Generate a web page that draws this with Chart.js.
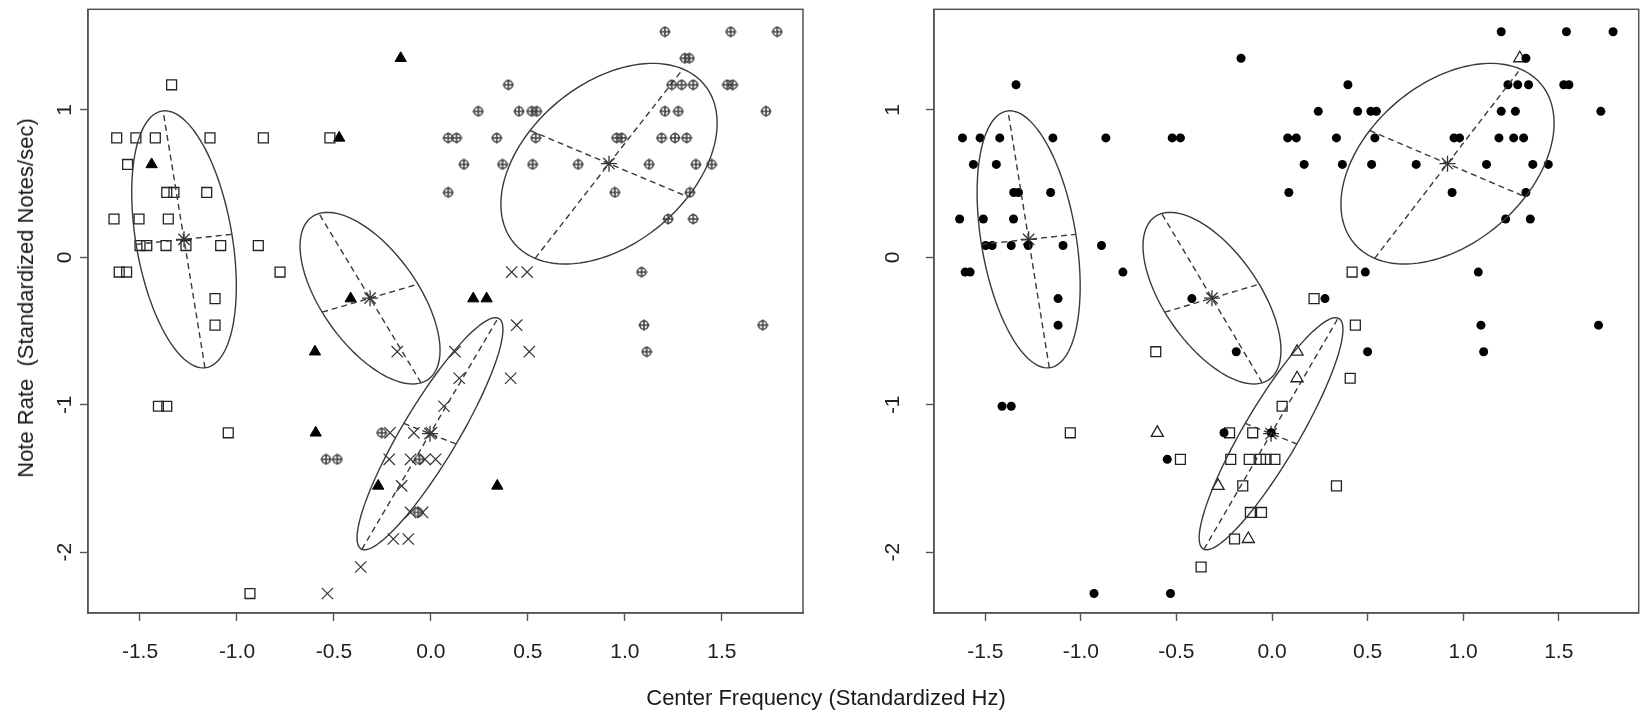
<!doctype html>
<html lang="en">
<head>
    <meta charset="UTF-8">
    <title>Note Rate vs Center Frequency</title>
    <script src="https://cdn.jsdelivr.net/npm/chart.js@4"></script>
    <style>
        body { margin: 0; background: #fff; overflow: hidden; }
        #wrap { position: relative; width: 1648px; height: 712px; }
        canvas { position: absolute; top: 0; }
        .lab {
            position: absolute; white-space: pre; color: #1a1a1a;
            font: 22px "Liberation Sans", Arial, sans-serif;
            transform: translate(-50%, -50%);
        }
        #ylab { left: 26px; top: 298px; transform: translate(-50%, -50%) rotate(-90deg); }
        #xlab { left: 826px; top: 698px; }
    </style>
</head>
<body>
<div id="wrap">
    <canvas id="left" width="824" height="712" style="left:0"></canvas>
    <canvas id="right" width="824" height="712" style="left:824px"></canvas>
    <div class="lab" id="ylab">Note Rate  (Standardized Notes/sec)</div>
    <div class="lab" id="xlab">Center Frequency (Standardized Hz)</div>
</div>

<script>
    // axis ticks
    const xTicks = [-1.5, -1.0, -0.5, 0.0, 0.5, 1.0, 1.5];
    const yTicks = [-2, -1, 0, 1];

    // left panel groups [x, y]
    const squaresL = [
        [-1.337, 1.17],
        [-1.620, 0.81], [-1.521, 0.81], [-1.421, 0.81], [-1.139, 0.81], [-0.864, 0.81], [-0.521, 0.81],
        [-1.564, 0.63],
        [-1.362, 0.44], [-1.325, 0.44], [-1.156, 0.44],
        [-1.634, 0.26], [-1.505, 0.26], [-1.354, 0.26],
        [-1.500, 0.08], [-1.465, 0.08], [-1.366, 0.08], [-1.263, 0.08], [-1.084, 0.08], [-0.890, 0.08],
        [-1.607, -0.10], [-1.569, -0.10], [-0.778, -0.10],
        [-1.113, -0.28], [-1.113, -0.46],
        [-1.405, -1.01], [-1.362, -1.01],
        [-1.045, -1.19],
        [-0.933, -2.28]
    ];
    const trianglesL = [
        [-0.156, 1.35], [-0.473, 0.81], [-1.440, 0.63], [-0.414, -0.28], [0.218, -0.28],
        [0.287, -0.28], [-0.598, -0.64], [-0.594, -1.19], [-0.272, -1.55], [0.342, -1.55]
    ];
    const crossesL = [
        [0.416, -0.10], [0.496, -0.10],
        [0.442, -0.46],
        [-0.174, -0.64], [0.124, -0.64], [0.507, -0.64],
        [0.146, -0.82], [0.411, -0.82],
        [0.067, -1.01],
        [-0.211, -1.19], [-0.088, -1.19], [0.003, -1.19],
        [-0.215, -1.37], [-0.105, -1.37], [-0.031, -1.37], [0.024, -1.37],
        [-0.151, -1.55],
        [-0.105, -1.73], [-0.043, -1.73],
        [-0.194, -1.91], [-0.117, -1.91],
        [-0.362, -2.10],
        [-0.534, -2.28]
    ];
    const circlePlusL = [
        [1.206, 1.53], [1.545, 1.53], [1.785, 1.53],
        [1.309, 1.35], [1.332, 1.35],
        [0.399, 1.17], [1.241, 1.17], [1.292, 1.17], [1.352, 1.17], [1.528, 1.17], [1.555, 1.17],
        [0.244, 0.99], [0.454, 0.99], [0.519, 0.99], [0.545, 0.99], [1.206, 0.99], [1.275, 0.99], [1.727, 0.99],
        [0.089, 0.81], [0.132, 0.81], [0.339, 0.81], [0.540, 0.81], [0.957, 0.81], [0.983, 0.81],
        [1.189, 0.81], [1.258, 0.81], [1.318, 0.81],
        [0.170, 0.63], [0.369, 0.63], [0.524, 0.63], [0.759, 0.63], [1.125, 0.63], [1.366, 0.63], [1.447, 0.63],
        [0.089, 0.44], [0.948, 0.44], [1.335, 0.44],
        [1.223, 0.26], [1.352, 0.26],
        [1.086, -0.10],
        [1.098, -0.46], [1.710, -0.46],
        [1.112, -0.64],
        [-0.254, -1.19],
        [-0.541, -1.37], [-0.483, -1.37], [-0.060, -1.37],
        [-0.065, -1.73]
    ];

    // right panel groups [x, y]
    const dotsR = [
        [-0.162, 1.35], [-1.339, 1.17],
        [-1.619, 0.81], [-1.527, 0.81], [-1.424, 0.81], [-1.146, 0.81], [-0.869, 0.81], [-0.522, 0.81], [-0.479, 0.81],
        [-1.562, 0.63], [-1.442, 0.63],
        [-1.351, 0.44], [-1.326, 0.44], [-1.158, 0.44],
        [-1.634, 0.26], [-1.510, 0.26], [-1.352, 0.26],
        [-1.498, 0.08], [-1.464, 0.08], [-1.364, 0.08], [-1.275, 0.08], [-1.093, 0.08], [-0.892, 0.08],
        [-1.605, -0.10], [-1.579, -0.10], [-0.780, -0.10],
        [-1.119, -0.28], [-0.419, -0.28],
        [-1.119, -0.46],
        [-0.187, -0.64],
        [-1.412, -1.01], [-1.364, -1.01],
        [-0.251, -1.19], [-0.004, -1.19],
        [-0.548, -1.37],
        [-0.931, -2.28], [-0.531, -2.28],
        [1.199, 1.53], [1.540, 1.53], [1.784, 1.53],
        [1.328, 1.35],
        [0.397, 1.17], [1.234, 1.17], [1.285, 1.17], [1.342, 1.17], [1.526, 1.17], [1.553, 1.17],
        [0.242, 0.99], [0.448, 0.99], [0.517, 0.99], [0.546, 0.99], [1.199, 0.99], [1.273, 0.99], [1.720, 0.99],
        [0.082, 0.81], [0.127, 0.81], [0.337, 0.81], [0.538, 0.81], [0.952, 0.81], [0.981, 0.81],
        [1.187, 0.81], [1.264, 0.81], [1.316, 0.81],
        [0.168, 0.63], [0.368, 0.63], [0.521, 0.63], [0.754, 0.63], [1.122, 0.63], [1.364, 0.63], [1.445, 0.63],
        [0.088, 0.44], [0.942, 0.44], [1.328, 0.44],
        [1.222, 0.26], [1.351, 0.26],
        [0.488, -0.10], [1.079, -0.10],
        [0.277, -0.28],
        [1.093, -0.46], [1.708, -0.46],
        [0.500, -0.64], [1.107, -0.64]
    ];
    const squaresR = [
        [0.419, -0.10], [0.220, -0.28], [0.436, -0.46], [-0.608, -0.64], [0.409, -0.82], [0.053, -1.01],
        [-1.055, -1.19], [-0.222, -1.19], [-0.101, -1.19],
        [-0.479, -1.37], [-0.216, -1.37], [-0.119, -1.37], [-0.060, -1.37], [-0.031, -1.37], [0.015, -1.37],
        [-0.153, -1.55], [0.337, -1.55],
        [-0.113, -1.73], [-0.055, -1.73],
        [-0.196, -1.91],
        [-0.371, -2.10]
    ];
    const trianglesR = [
        [1.296, 1.35], [-0.600, -1.19], [0.131, -0.64], [0.131, -0.82], [-0.282, -1.55], [-0.124, -1.91]
    ];

    // cluster ellipses: centre and the two half-axes, in data units
    const ellipseCenters = [[-1.273, 0.122], [-0.314, -0.277], [-0.005, -1.196], [0.918, 0.635]];
    const ellipseMajor = [[-0.108, 0.871], [-0.263, 0.574], [0.351, 0.784], [0.381, 0.642]];
    const ellipseMinor = [[0.247, 0.034], [0.247, 0.095], [0.135, -0.070], [0.407, -0.225]];

    const FRAME = '#555';
    const INK = '#222';
    const FONT = '"Liberation Sans", Arial, sans-serif';

    const pts = arr => arr.map(p => ({ x: p[0], y: p[1] }));

    // circle with a plus (R pch 10)
    function circlePlus(size, color) {
        const c = document.createElement('canvas');
        c.width = c.height = size;
        const g = c.getContext('2d');
        const m = size / 2;
        g.strokeStyle = color;
        g.lineWidth = 1.6;
        g.beginPath();
        g.arc(m, m, m - 1.8, 0, Math.PI * 2);
        g.stroke();
        g.beginPath();
        g.moveTo(m, 0.5); g.lineTo(m, size - 0.5);
        g.moveTo(0.5, m); g.lineTo(size - 0.5, m);
        g.stroke();
        return c;
    }

    const extras = {
        id: 'extras',
        afterDatasetsDraw(chart) {
            const { ctx, scales: { x, y } } = chart;
            const px = (vx, vy) => [x.getPixelForValue(vx), y.getPixelForValue(vy)];
            ctx.save();
            ctx.strokeStyle = '#3a3a3a';
            ctx.lineWidth = 1.4;
            ellipseCenters.forEach((c, i) => {
                const a = ellipseMajor[i], b = ellipseMinor[i];
                ctx.setLineDash([]);
                ctx.beginPath();
                for (let k = 0; k <= 120; k++) {
                    const t = k / 120 * Math.PI * 2;
                    const p = px(c[0] + a[0] * Math.cos(t) + b[0] * Math.sin(t),
                                 c[1] + a[1] * Math.cos(t) + b[1] * Math.sin(t));
                    if (k === 0) ctx.moveTo(p[0], p[1]); else ctx.lineTo(p[0], p[1]);
                }
                ctx.stroke();
                ctx.setLineDash([6, 4]);
                ctx.beginPath();
                [a, b].forEach(v => {
                    const p1 = px(c[0] - v[0], c[1] - v[1]);
                    const p2 = px(c[0] + v[0], c[1] + v[1]);
                    ctx.moveTo(p1[0], p1[1]);
                    ctx.lineTo(p2[0], p2[1]);
                });
                ctx.stroke();
            });
            ctx.restore();
        },
        afterDraw(chart) {
            const { ctx, chartArea: a, scales: { y } } = chart;
            ctx.save();
            ctx.strokeStyle = FRAME;
            ctx.lineWidth = 1.5;
            ctx.strokeRect(a.left, a.top, a.right - a.left, a.bottom - a.top);
            // rotated y tick labels, as R draws them
            ctx.fillStyle = INK;
            ctx.font = '21px ' + FONT;
            ctx.textAlign = 'center';
            ctx.textBaseline = 'middle';
            const off = chart.options.yLabelOffset;
            yTicks.forEach(v => {
                ctx.save();
                ctx.translate(a.left - off, y.getPixelForValue(v));
                ctx.rotate(-Math.PI / 2);
                ctx.fillText(String(v), 0, 0);
                ctx.restore();
            });
            ctx.restore();
        }
    };

    function makeChart(id, datasets, yWidth, rightPad, yLabelOffset) {
        const gridOpts = {
            drawOnChartArea: false, drawTicks: true, tickLength: 8,
            color: FRAME, tickColor: FRAME, tickWidth: 1.4
        };
        return new Chart(document.getElementById(id), {
            type: 'scatter',
            data: { datasets: datasets },
            plugins: [extras],
            options: {
                responsive: false,
                animation: false,
                devicePixelRatio: 1,
                yLabelOffset: yLabelOffset,
                layout: { padding: { top: 7, right: rightPad, bottom: 0, left: 0 } },
                plugins: { legend: { display: false }, tooltip: { enabled: false } },
                scales: {
                    x: {
                        type: 'linear', min: -1.768, max: 1.918,
                        afterBuildTicks: ax => { ax.ticks = xTicks.map(v => ({ value: v })); },
                        afterFit: ax => { ax.height = 99; },
                        grid: gridOpts,
                        border: { display: true, color: FRAME, width: 1.5 },
                        ticks: {
                            color: INK, padding: 19, maxRotation: 0,
                            font: { family: FONT, size: 21 },
                            callback: v => v.toFixed(1)
                        }
                    },
                    y: {
                        type: 'linear', min: -2.412, max: 1.682,
                        afterBuildTicks: ax => { ax.ticks = yTicks.map(v => ({ value: v })); },
                        afterFit: ax => { ax.width = yWidth; },
                        grid: gridOpts,
                        border: { display: true, color: FRAME, width: 1.5 },
                        ticks: { display: false }
                    }
                }
            }
        });
    }

    const plusImg = circlePlus(12, '#444');
    const centerSet = {
        data: pts(ellipseCenters), pointStyle: 'star', pointRadius: 8,
        borderColor: '#333', borderWidth: 1.3, backgroundColor: 'transparent'
    };

    makeChart('left', [
        { data: pts(squaresL), pointStyle: 'rect', pointRadius: 7, borderColor: INK, borderWidth: 1.3, backgroundColor: 'transparent' },
        { data: pts(trianglesL), pointStyle: 'triangle', pointRadius: 6.5, borderColor: '#000', borderWidth: 1, backgroundColor: '#000' },
        { data: pts(crossesL), pointStyle: 'crossRot', pointRadius: 8, borderColor: '#333', borderWidth: 1.2 },
        { data: pts(circlePlusL), pointStyle: plusImg, pointRadius: 6 },
        centerSet
    ], 88, 21, 23);

    makeChart('right', [
        { data: pts(dotsR), pointStyle: 'circle', pointRadius: 4.5, borderWidth: 0, backgroundColor: '#000' },
        { data: pts(squaresR), pointStyle: 'rect', pointRadius: 7, borderColor: INK, borderWidth: 1.3, backgroundColor: 'transparent' },
        { data: pts(trianglesR), pointStyle: 'triangle', pointRadius: 7, borderColor: INK, borderWidth: 1.3, backgroundColor: 'transparent' },
        Object.assign({}, centerSet, { data: pts(ellipseCenters) })
    ], 110, 1, 41);
</script>
</body>
</html>
